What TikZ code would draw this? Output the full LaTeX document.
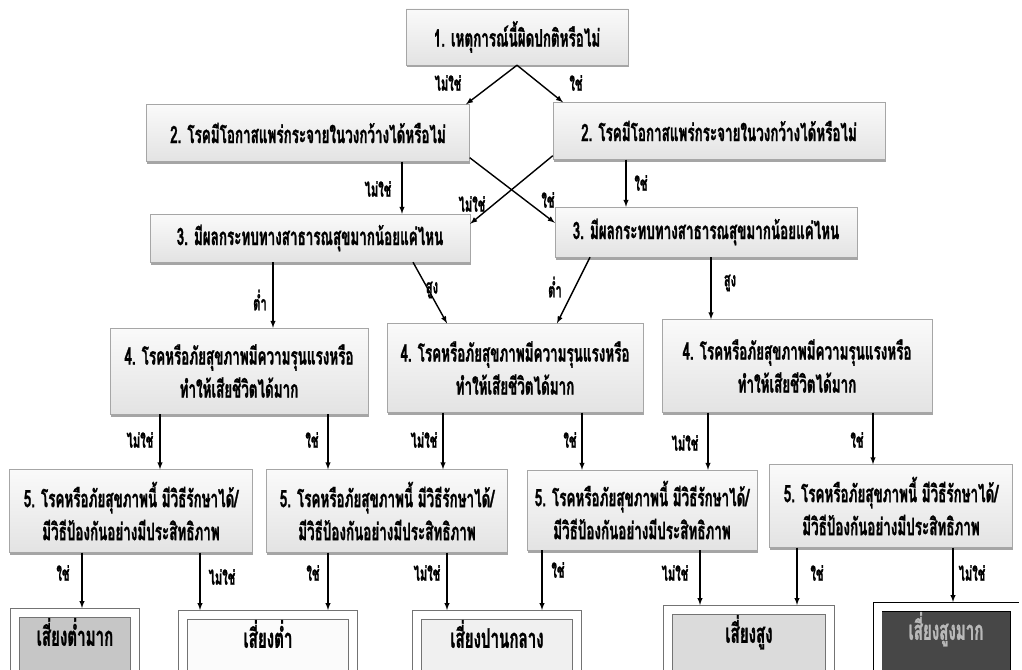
\documentclass[tikz,border=0pt]{standalone}
\usepackage{fontspec}
\newfontfamily\thaifont[Script=Thai,FakeStretch=0.56,BoldFeatures={FakeBold=1}]{Loma}
\newcommand\boxfont{\thaifont\bfseries\fontsize{24}{33}\selectfont}
\newcommand\lblfont{\thaifont\bfseries\fontsize{20}{22}\selectfont}
\newcommand\riskfont{\thaifont\bfseries\fontsize{27}{30}\selectfont}
\usetikzlibrary{shadows}

\begin{document}
\begin{tikzpicture}
  [x=1pt, y=-1pt,
   qbox/.style={draw=gray!70, top color=gray!4, bottom color=gray!22,
     drop shadow={shadow xshift=0.5pt, shadow yshift=-2.5pt, fill=black!70},
     font=\boxfont, align=center, inner sep=0pt},
   risk/.style={draw=black!55, fill=#1, double=white, double distance=8pt,
     line width=0.8pt, outer sep=4.8pt, inner sep=0pt, anchor=north,
     text height=33pt, text depth=40pt, font=\riskfont},
   lbl/.style={font=\lblfont, inner sep=1pt},
   arr/.style={-latex, line width=1.4pt}]
  \clip (0,0) rectangle (1022,669);
  \fill[white] (0,0) rectangle (1022,669);

  % questions
  \node[qbox, minimum width=222pt, minimum height=56pt] (q1) at (517,37) {1. เหตุการณ์นี้ผิดปกติหรือไม่};
  \node[qbox, minimum width=323pt, minimum height=57pt] (q2a) at (308,133) {2. โรคมีโอกาสแพร่กระจายในวงกว้างได้หรือไม่};
  \node[qbox, minimum width=332pt, minimum height=57pt] (q2b) at (719,131) {2. โรคมีโอกาสแพร่กระจายในวงกว้างได้หรือไม่};
  \node[qbox, minimum width=320pt, minimum height=48pt] (q3a) at (310,238) {3. มีผลกระทบทางสาธารณสุขมากน้อยแค่ไหน};
  \node[qbox, minimum width=302pt, minimum height=50pt] (q3b) at (706,232) {3. มีผลกระทบทางสาธารณสุขมากน้อยแค่ไหน};
  \node[qbox, minimum width=258pt, minimum height=86pt] (q4a) at (239,371) {4. โรคหรือภัยสุขภาพมีความรุนแรงหรือ\\ทำให้เสียชีวิตได้มาก};
  \node[qbox, minimum width=256pt, minimum height=89pt] (q4b) at (515,368) {4. โรคหรือภัยสุขภาพมีความรุนแรงหรือ\\ทำให้เสียชีวิตได้มาก};
  \node[qbox, minimum width=270pt, minimum height=93pt] (q4c) at (797,366) {4. โรคหรือภัยสุขภาพมีความรุนแรงหรือ\\ทำให้เสียชีวิตได้มาก};
  \node[qbox, minimum width=243pt, minimum height=83pt] (q5a) at (131,511) {5. โรคหรือภัยสุขภาพนี้ มีวิธีรักษาได้/\\มีวิธีป้องกันอย่างมีประสิทธิภาพ};
  \node[qbox, minimum width=241pt, minimum height=83pt] (q5b) at (387,511) {5. โรคหรือภัยสุขภาพนี้ มีวิธีรักษาได้/\\มีวิธีป้องกันอย่างมีประสิทธิภาพ};
  \node[qbox, minimum width=230pt, minimum height=80pt] (q5c) at (642,510) {5. โรคหรือภัยสุขภาพนี้ มีวิธีรักษาได้/\\มีวิธีป้องกันอย่างมีประสิทธิภาพ};
  \node[qbox, minimum width=243pt, minimum height=83pt] (q5d) at (891,506) {5. โรคหรือภัยสุขภาพนี้ มีวิธีรักษาได้/\\มีวิธีป้องกันอย่างมีประสิทธิภาพ};

  % risk levels
  \node[risk=gray!45, minimum width=120pt] (r1) at (75,608) {เสี่ยงต่ำมาก};
  \node[risk=gray!3, minimum width=170pt] (r2) at (268,610) {เสี่ยงต่ำ};
  \node[risk=gray!12, minimum width=160pt] (r3) at (497,610) {เสี่ยงปานกลาง};
  \node[risk=gray!28, minimum width=162pt] (r4) at (749,605) {เสี่ยงสูง};
  \node[risk=black!72, draw=black, minimum width=137pt, text=gray!55] (r5) at (946,602) {เสี่ยงสูงมาก};

  % connectors
  \draw[arr] (q1.south) -- (q2a.north -| 466,0);
  \draw[arr] (q1.south) -- (q2b.north -| 563,0);
  \draw[arr] (q2a.south -| 402,0) -- (q3a.north -| 402,0);
  \draw[arr] ([yshift=4pt]q2a.south east) -- ([yshift=-16pt]q3b.north west);
  \draw[arr] ([yshift=4pt]q2b.south west) -- ([yshift=-10pt]q3a.north east);
  \draw[arr] (q2b.south -| 626,0) -- (q3b.north -| 626,0);
  \draw[arr] (q3a.south -| 273,0) -- (q4a.north -| 273,0);
  \draw[arr] (q3a.south -| 413,0) -- (q4b.north -| 447,0);
  \draw[arr] (q3b.south -| 590,0) -- (q4b.north -| 557,0);
  \draw[arr] (q3b.south -| 711,0) -- (q4c.north -| 711,0);
  \draw[arr] (q4a.south -| 160,0) -- (q5a.north -| 160,0);
  \draw[arr] (q4a.south -| 328,0) -- (q5b.north -| 328,0);
  \draw[arr] (q4b.south -| 443,0) -- (q5b.north -| 443,0);
  \draw[arr] (q4b.south -| 582,0) -- (q5c.north -| 582,0);
  \draw[arr] (q4c.south -| 708,0) -- (q5c.north -| 708,0);
  \draw[arr] (q4c.south -| 873,0) -- (q5d.north -| 873,0);
  \draw[arr] (q5a.south -| 82,0) -- (r1.north -| 82,0);
  \draw[arr] (q5a.south -| 200,0) -- (r2.north -| 200,0);
  \draw[arr] (q5b.south -| 328,0) -- (r2.north -| 328,0);
  \draw[arr] (q5b.south -| 447,0) -- (r3.north -| 447,0);
  \draw[arr] (q5c.south -| 542,0) -- (r3.north -| 542,0);
  \draw[arr] (q5c.south -| 700,0) -- (r4.north -| 700,0);
  \draw[arr] (q5d.south -| 797,0) -- (r4.north -| 797,0);
  \draw[arr] (q5d.south -| 953,0) -- (r5.north -| 953,0);

  % answers
  \node[lbl] (a1) at (448,83) {ไม่ใช่};
  \node[lbl] (a2) at (576,83) {ใช่};
  \node[lbl] (a3) at (378,189) {ไม่ใช่};
  \node[lbl] (a4) at (472,204) {ไม่ใช่};
  \node[lbl] (a5) at (548,200) {ใช่};
  \node[lbl] (a6) at (641,183) {ใช่};
  \node[lbl] (a7) at (260,300) {ต่ำ};
  \node[lbl] (a8) at (432,290) {สูง};
  \node[lbl] (a9) at (555,287) {ต่ำ};
  \node[lbl] (a10) at (730,283) {สูง};
  \node[lbl] (a11) at (140,440) {ไม่ใช่};
  \node[lbl] (a12) at (312,440) {ใช่};
  \node[lbl] (a13) at (424,440) {ไม่ใช่};
  \node[lbl] (a14) at (570,440) {ใช่};
  \node[lbl] (a15) at (685,443) {ไม่ใช่};
  \node[lbl] (a16) at (857,440) {ใช่};
  \node[lbl] (a17) at (63,573) {ใช่};
  \node[lbl] (a18) at (222,577) {ไม่ใช่};
  \node[lbl] (a19) at (313,573) {ใช่};
  \node[lbl] (a20) at (427,573) {ไม่ใช่};
  \node[lbl] (a21) at (558,570) {ใช่};
  \node[lbl] (a22) at (675,573) {ไม่ใช่};
  \node[lbl] (a23) at (817,573) {ใช่};
  \node[lbl] (a24) at (972,573) {ไม่ใช่};
\end{tikzpicture}
\end{document}
